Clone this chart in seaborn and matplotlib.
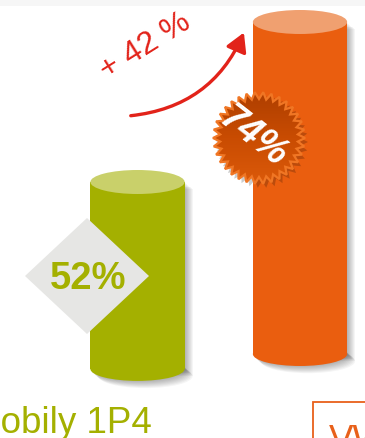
import numpy as np
import pandas as pd
import matplotlib
matplotlib.use("Agg")
import matplotlib.pyplot as plt
import seaborn as sns
from matplotlib.patches import Ellipse, Polygon, Rectangle, FancyArrowPatch
from matplotlib.colors import LinearSegmentedColormap

# ---- data ----
categories = ["Mobily 1P4", "VW"]
values = [52, 74]
bar_colors = ["#a4b000", "#ea5e0f"]
top_colors = ["#c9d06a", "#f0a070"]

# ---- layout (pixels) ----
W, H = 365, 439
BAR_W = 0.58
bases = [26.3, 28.35]          # visual bottom of each cylinder (value units)
PX_X = 162.5                   # pixels per category step
X0 = 137.5                     # pixel x of first category
PX_Y = 160 / 22                # pixels per value unit
Y0 = 183 + 52 * PX_Y           # pixel y of value 0

sns.set_theme(style="white")
plt.rcParams['font.family'] = ['Liberation Sans', 'DejaVu Sans']

fig = plt.figure(figsize=(W / 100, H / 100), dpi=100)
fig.patch.set_facecolor("white")
ax = fig.add_axes([0, 0, 1, 1])
df = pd.DataFrame({"cat": categories, "val": values})
sns.barplot(data=df, x="cat", y="val", hue="cat", palette=bar_colors,
            width=BAR_W, legend=False, ax=ax, saturation=1, zorder=3,
            linewidth=0)
ax.set_xlim(-X0 / PX_X, (W - X0) / PX_X)
ax.set_ylim((Y0 - H) / PX_Y, Y0 / PX_Y)
ax.axis("off")

ell_h = 24 / PX_Y
bars = sorted(ax.patches, key=lambda p: p.get_x())
for i, p in enumerate(bars):
    p.set_y(bases[i])
    p.set_height(values[i] - bases[i])
    xc = p.get_x() + p.get_width() / 2
    w = p.get_width()
    # soft shadow
    for k in range(1, 9):
        dx = k * 1.0 / PX_X
        dy = -k * 0.9 / PX_Y
        ax.add_patch(Rectangle((p.get_x() + dx, bases[i] + dy), w, values[i] - bases[i],
                               color="#000000", alpha=0.04, lw=0, zorder=1))
        ax.add_patch(Ellipse((xc + dx, bases[i] + dy), w, ell_h,
                             color="#000000", alpha=0.04, lw=0, zorder=1))
    ax.add_patch(Ellipse((xc, bases[i]), w, ell_h, color=bar_colors[i], lw=0, zorder=2.9))
    ax.add_patch(Ellipse((xc, values[i]), w, ell_h, color=top_colors[i], lw=0, zorder=4))

# ---- overlay in pixel coordinates ----
ov = fig.add_axes([0, 0, 1, 1])
ov.set_xlim(0, W)
ov.set_ylim(H, 0)
ov.axis("off")

# faint top band
ov.add_patch(Rectangle((0, 0), W, 7, color="#f6f6f6", lw=0, zorder=0))

# diamond with 52%
cx, cy = 87, 277
ov.add_patch(Polygon([(cx - 62, cy), (cx, cy - 58), (cx + 62, cy), (cx, cy + 58)],
                     closed=True, color="#e6e6e4", lw=0, zorder=5))
ov.text(cx + 1, cy + 2, f"{values[0]}%", color=bar_colors[0], fontsize=27.5,
        fontweight="bold", ha="center", va="center", zorder=6)

# starburst with 74%
sx, sy = 259, 139
n = 34
ang = np.linspace(0, 2 * np.pi, 2 * n, endpoint=False)
rad = np.where(np.arange(2 * n) % 2 == 0, 46, 39)
pts = np.column_stack([sx + rad * np.cos(ang), sy + rad * np.sin(ang)])
ov.add_patch(Polygon(pts + [3, 4], closed=True, color="#000000", alpha=0.2, lw=0, zorder=5))
star = Polygon(pts, closed=True, facecolor="none", edgecolor="#f07624",
               lw=1.6, zorder=6.5)
ov.add_patch(star)
grad = LinearSegmentedColormap.from_list("g", ["#ad3e00", "#c94c02", "#dc5a0a"])
img = ov.imshow(np.linspace(0, 1, 100).reshape(-1, 1), cmap=grad, aspect="auto",
                extent=(sx - 48, sx + 48, sy + 48, sy - 48), zorder=6, interpolation="bilinear")
clip = Polygon(pts, closed=True, transform=ov.transData)
img.set_clip_path(clip)
ov.set_xlim(0, W)
ov.set_ylim(H, 0)
ov.text(253, 137, f"{values[1]}%", color="white", fontsize=27,
        fontweight="bold", fontstyle="italic", ha="center", va="center",
        rotation=-38, rotation_mode="anchor", zorder=7)

# growth arrow
growth = round((values[1] / values[0] - 1) * 100)
arr = FancyArrowPatch((128, 117), (245, 31), connectionstyle="arc3,rad=0.3",
                      arrowstyle="-|>,head_length=7,head_width=4",
                      color="#e2231a", lw=2.4, zorder=6, mutation_scale=1.6)
ov.add_patch(arr)
ov.text(145, 47, f"+ {growth} %", color="#e2231a", fontsize=23,
        ha="center", va="center", rotation=32, rotation_mode="anchor", zorder=6)

# category labels
ov.text(152, 433, categories[0], color=bar_colors[0], fontsize=26.5,
        ha="right", va="baseline", zorder=6)
ov.add_patch(Rectangle((312.5, 403.5), 80, 60, facecolor="white",
                       edgecolor="#e8601a", lw=1.3, zorder=5))
ov.text(329, 451, categories[1], color="#e8601a", fontsize=26.5,
        ha="left", va="baseline", zorder=6)

fig.savefig("out.png", dpi=100)
